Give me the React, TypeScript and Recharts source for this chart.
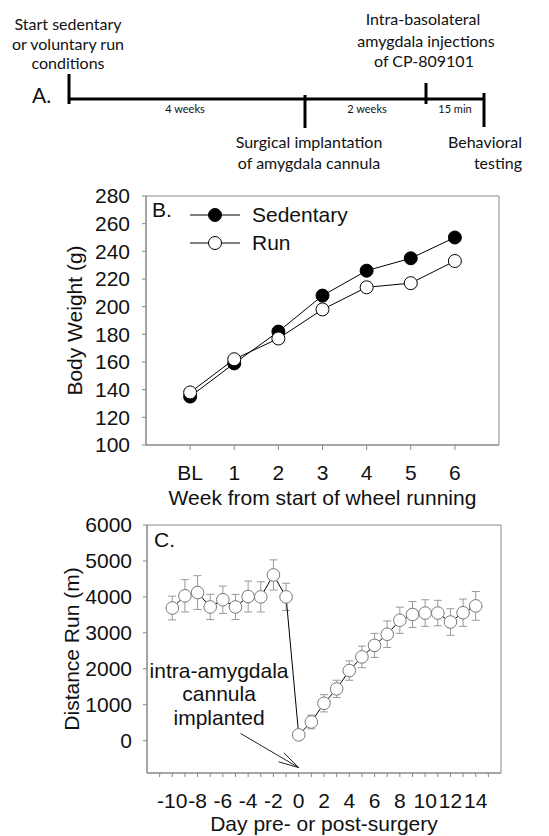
import React from "react";
import {
  LineChart,
  Line,
  XAxis,
  YAxis,
  ErrorBar,
  ReferenceArea,
  ReferenceLine,
  ReferenceDot,
  Legend,
  Label,
} from "recharts";

const FONT = "'Liberation Sans', Arial, sans-serif";
const SCHEME_FONT = "Lato, 'Open Sans', sans-serif";

// Panel B: body weight by week
const weeks = [0, 1, 2, 3, 4, 5, 6];
const weekLabels = ["BL", "1", "2", "3", "4", "5", "6"];
const sedentaryWeight = [135, 159, 182, 208, 226, 235, 250];
const runWeight = [138, 162, 177, 198, 214, 217, 233];
const weightTicks = [100, 120, 140, 160, 180, 200, 220, 240, 260, 280];

// Panel C: distance run around surgery
const days = [-10, -9, -8, -7, -6, -5, -4, -3, -2, -1, 0, 1, 2, 3, 4, 5, 6, 7, 8, 9, 10, 11, 12, 13, 14];
const distanceRun = [
  3690, 4030, 4120, 3720, 3920, 3720, 4010, 4000, 4610, 4000,
  160, 520, 1040, 1440, 1950, 2330, 2650, 2960, 3350, 3510, 3550, 3550, 3300, 3560, 3750,
];
const distanceSem = [
  330, 450, 470, 350, 380, 350, 430, 420, 420, 380,
  120, 190, 240, 240, 270, 300, 335, 370, 365, 360, 370, 355, 370, 380, 400,
];
const distanceTicks = [0, 1000, 2000, 3000, 4000, 5000, 6000];
const dayTicks = [-11, -10, -9, -8, -7, -6, -5, -4, -3, -2, -1, 0, 1, 2, 3, 4, 5, 6, 7, 8, 9, 10, 11, 12, 13, 14, 15];
const dayLabels = [-10, -8, -6, -4, -2, 0, 2, 4, 6, 8, 10, 12, 14];

const weightData = weeks.map((w, i) => ({
  week: w,
  sedentary: sedentaryWeight[i],
  run: runWeight[i],
}));

const distanceData = days.map((d, i) => ({
  day: d,
  dist: distanceRun[i],
  sem: distanceSem[i],
}));

const tickStyle = { fill: "#111", fontSize: 21, fontFamily: FONT };
const labelStyle = { fill: "#111", fontSize: 21, fontFamily: FONT };

const legendOrder = ["Sedentary", "Run"];
const legendFill: Record<string, string> = { Sedentary: "#000", Run: "#fff" };

const renderLegend = (props: any) => {
  const items = [...(props.payload || [])].sort(
    (a: any, b: any) => legendOrder.indexOf(a.value) - legendOrder.indexOf(b.value)
  );
  return (
    <div>
      {items.map((entry: any) => (
        <div
          key={entry.value}
          style={{ display: "flex", alignItems: "center", height: 28 }}
        >
          <svg width={50} height={28}>
            <line x1={0} y1={14} x2={50} y2={14} stroke="#000" strokeWidth={1} />
            <circle cx={25} cy={14} r={6.5} fill={legendFill[entry.value]} stroke="#000" />
          </svg>
          <span style={{ marginLeft: 12, fontSize: 21, fontFamily: FONT, color: "#111" }}>
            {entry.value}
          </span>
        </div>
      ))}
    </div>
  );
};

const ArrowShape = (p: any) => {
  const { x1, y1, x2, y2 } = p;
  const ang = Math.atan2(y2 - y1, x2 - x1);
  const len = 21;
  const spread = 0.25;
  const a = [x2 - len * Math.cos(ang - spread), y2 - len * Math.sin(ang - spread)];
  const b = [x2 - len * Math.cos(ang + spread), y2 - len * Math.sin(ang + spread)];
  return (
    <g stroke="#222" strokeWidth={1}>
      <line x1={x1} y1={y1} x2={x2} y2={y2} />
      <line x1={x2} y1={y2} x2={a[0]} y2={a[1]} />
      <line x1={x2} y1={y2} x2={b[0]} y2={b[1]} />
    </g>
  );
};

const NoteShape = (p: any) => (
  <text
    x={p.cx}
    y={p.cy + 7.5}
    textAnchor="middle"
    fontSize={21}
    fontFamily={FONT}
    fill="#111"
  >
    <tspan x={p.cx}>intra-amygdala</tspan>
    <tspan x={p.cx} dy={23.3}>cannula</tspan>
    <tspan x={p.cx} dy={23.3}>implanted</tspan>
  </text>
);

function Timeline() {
  const t = { fontFamily: SCHEME_FONT, fontSize: 16, fill: "#111", textAnchor: "middle" as const };
  const s = { fontFamily: SCHEME_FONT, fontSize: 11, fill: "#111", textAnchor: "middle" as const };
  return (
    <svg width={549} height={180} style={{ position: "absolute", left: 0, top: 0 }}>
      <text x={68} y={30} {...t}>Start sedentary</text>
      <text x={68} y={50} {...t}>or voluntary run</text>
      <text x={68} y={69} {...t}>conditions</text>
      <text x={423} y={25} {...t}>Intra-basolateral</text>
      <text x={426} y={47} {...t}>amygdala injections</text>
      <text x={424} y={67} {...t}>of CP-809101</text>
      <text x={32} y={103} fontFamily={SCHEME_FONT} fontSize={21} fill="#111">A.</text>
      <g stroke="#000" strokeWidth={3}>
        <line x1={69} y1={99} x2={484} y2={99} />
        <line x1={69} y1={74} x2={69} y2={104} />
        <line x1={305} y1={95} x2={305} y2={128} />
        <line x1={426} y1={83} x2={426} y2={104} />
        <line x1={484} y1={93} x2={484} y2={127} />
      </g>
      <text x={185} y={113} {...s}>4 weeks</text>
      <text x={367} y={113} {...s}>2 weeks</text>
      <text x={455} y={113} {...s}>15 min</text>
      <text x={309} y={148} {...t}>Surgical implantation</text>
      <text x={309} y={169} {...t}>of amygdala cannula</text>
      <text x={485} y={148} {...t}>Behavioral</text>
      <text x={498} y={169} {...t}>testing</text>
    </svg>
  );
}

export default function App() {
  return (
    <div
      style={{
        position: "absolute",
        left: 0,
        top: 0,
        width: 549,
        height: 836,
        background: "#fff",
        overflow: "hidden",
      }}
    >
      <Timeline />

      <div style={{ position: "absolute", left: 0, top: 180 }}>
        <LineChart
          width={549}
          height={340}
          data={weightData}
          margin={{ top: 16, right: 50, bottom: 0, left: 0 }}
        >
          <XAxis
            dataKey="week"
            type="number"
            domain={[-1, 7]}
            ticks={weeks}
            interval={0}
            tickFormatter={(v: number) => weekLabels[v] ?? ""}
            height={75}
            stroke="#888"
            tickSize={5}
            tickMargin={15}
            tick={tickStyle}
          >
            <Label value="Week from start of wheel running" position="insideBottom" offset={15} style={labelStyle} />
          </XAxis>
          <YAxis
            type="number"
            domain={[100, 280]}
            ticks={weightTicks}
            interval={0}
            width={146}
            stroke="#888"
            tickSize={4}
            tickMargin={12}
            tick={tickStyle}
          >
            <Label
              value="Body Weight (g)"
              angle={-90}
              position="insideLeft"
              offset={75}
              style={{ ...labelStyle, textAnchor: "middle" }}
            />
          </YAxis>
          <ReferenceArea x1={-1} x2={7} y1={100} y2={280} fill="none" stroke="#888" ifOverflow="visible">
            <Label value="B." position="insideTopLeft" offset={6} style={labelStyle} />
          </ReferenceArea>
          <Line
            dataKey="sedentary"
            name="Sedentary"
            stroke="#000"
            strokeWidth={1}
            dot={{ r: 6.5, fill: "#000", stroke: "#000", strokeWidth: 1 }}
            isAnimationActive={false}
          />
          <Line
            dataKey="run"
            name="Run"
            stroke="#000"
            strokeWidth={1}
            dot={{ r: 6.5, fill: "#fff", stroke: "#000", strokeWidth: 1 }}
            isAnimationActive={false}
          />
          <Legend
            content={renderLegend}
            layout="vertical"
            align="center"
            verticalAlign="middle"
            wrapperStyle={{ left: 190, top: 21, width: "auto" }}
          />
        </LineChart>
      </div>

      <div style={{ position: "absolute", left: 0, top: 505 }}>
        <LineChart
          width={549}
          height={331}
          data={distanceData}
          margin={{ top: 20, right: 48, bottom: 0, left: 0 }}
        >
          <XAxis
            dataKey="day"
            type="number"
            domain={[-12, 16]}
            ticks={dayTicks}
            interval={0}
            tickFormatter={(v: number) => (dayLabels.includes(v) ? String(v) : "")}
            height={63}
            stroke="#888"
            tickSize={4}
            tickMargin={16}
            tick={tickStyle}
          >
            <Label value="Day pre- or post-surgery" position="insideBottom" offset={5} style={labelStyle} />
          </XAxis>
          <YAxis
            type="number"
            domain={[-900, 6000]}
            ticks={distanceTicks}
            interval={0}
            width={147}
            stroke="#888"
            tickSize={4}
            tickMargin={11}
            tick={tickStyle}
          >
            <Label
              value="Distance Run (m)"
              angle={-90}
              position="insideLeft"
              offset={72}
              style={{ ...labelStyle, textAnchor: "middle" }}
            />
          </YAxis>
          <ReferenceArea x1={-12} x2={16} y1={-900} y2={6000} fill="none" stroke="#888" ifOverflow="visible">
            <Label value="C." position="insideTopLeft" offset={7} style={labelStyle} />
          </ReferenceArea>
          <ReferenceDot x={-6.3} y={1950} r={0} shape={NoteShape} />
          <ReferenceLine
            segment={[
              { x: -4.6, y: 200 },
              { x: 0, y: -750 },
            ]}
            shape={ArrowShape}
          />
          <Line
            dataKey="dist"
            stroke="#000"
            strokeWidth={1}
            dot={{ r: 6.3, fill: "#fff", stroke: "#777", strokeWidth: 1 }}
            isAnimationActive={false}
          >
            <ErrorBar dataKey="sem" width={4} stroke="#999" strokeWidth={1} direction="y" isAnimationActive={false} />
          </Line>
        </LineChart>
      </div>
    </div>
  );
}
